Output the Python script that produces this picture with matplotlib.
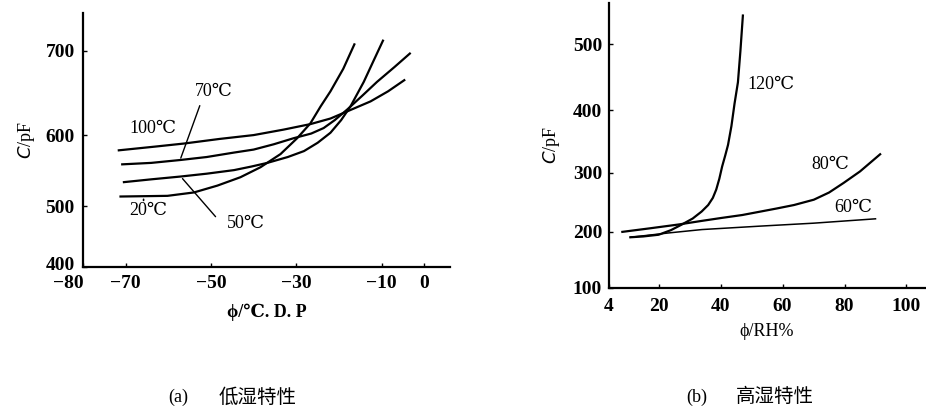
import numpy as np
import matplotlib
matplotlib.use('Agg')
import matplotlib.pyplot as plt
from matplotlib.transforms import ScaledTranslation

# (a) low humidity: dew point vs capacitance
dp_100 = [-71.6, -63, -56.3, -48, -40, -33, -26.7, -22, -18, -12.6, -8.5, -4.7]
c_100 = [580, 585, 589, 595, 600, 607, 614, 621, 630, 642, 654, 667]
dp_70 = [-70.8, -64, -57.1, -51, -44.6, -40, -35.3, -30.6, -26.5, -23.6, -21, -18.1, -14.5, -11.1, -7, -3.4]
c_70 = [561, 563, 567, 571, 577, 581, 588, 596, 602, 609, 619, 632, 649, 665, 682, 697]
dp_50 = [-70.4, -64, -57.1, -51, -44.6, -40.5, -36.8, -32, -28.2, -25, -22, -19.5, -17.3, -14.2, -12, -9.7]
c_50 = [536, 540, 544, 548, 553, 558, 563, 571, 579, 590, 603, 619, 636, 665, 688, 711]
dp_20 = [-71.2, -60.2, -54, -48.5, -43.1, -38.4, -33.7, -29.8, -26.7, -24.3, -22, -19, -16.4]
c_20 = [515, 516, 521, 531, 543, 557, 575, 596, 615, 636, 654, 680, 707]

# (b) high humidity: RH vs capacitance
rh_120 = [10.9, 15, 20, 24, 27.5, 31, 33.9, 36, 37.5, 38.6, 39.6, 40.5, 41.5, 42.4, 43.5, 44.5, 45.6, 46.4, 47.2]
c_120 = [190.6, 192, 195, 203, 212.7, 223, 235, 246, 258, 272, 290, 310, 328, 345, 375, 410, 443, 490, 542]
rh_80 = [8.3, 17, 26.4, 34, 40.3, 47, 53, 58, 63.7, 70.1, 75, 79.7, 85, 91.5]
c_80 = [200, 206, 212.7, 219, 224, 229, 235, 240, 246, 255, 267, 283, 302, 330]
rh_60 = [10.9, 23, 34, 53, 70, 90]
c_60 = [190.6, 198, 204, 210, 215, 222.5]

left_xticks = [-80, -70, -50, -30, -10, 0]
left_yticks = [400, 500, 600, 700]
right_xticks = [4, 20, 40, 60, 80, 100]
right_yticks = [100, 200, 300, 400, 500]

serif = ['Liberation Serif', 'DejaVu Serif', 'Noto Sans CJK SC']
cjk = ['Noto Sans CJK SC', 'DejaVu Sans']
plt.rcParams['font.family'] = serif
plt.rcParams['axes.unicode_minus'] = True

fig = plt.figure(figsize=(9.26, 4.13), dpi=100)
ax1 = fig.add_axes([0.0896, 0.3535, 0.3963, 0.615])
ax2 = fig.add_axes([0.6577, 0.3027, 0.3413, 0.690])


def style(ax):
    for s in ['top', 'right']:
        ax.spines[s].set_visible(False)
    for s in ['left', 'bottom']:
        ax.spines[s].set_linewidth(1.6)
    ax.tick_params(direction='in', length=3, width=1, labelsize=14)
    for lab in ax.get_xticklabels() + ax.get_yticklabels():
        lab.set_fontweight('bold')


# the scanned axes are not quite linear: stretched toward the top
b1 = 1.18
ax1.set_yscale('function', functions=(lambda v: b1 ** (np.asarray(v) / 100.0),
                                      lambda u: 100.0 * np.log(np.asarray(u)) / np.log(b1)))
b2 = 1.055
ax2.set_yscale('function', functions=(lambda v: b2 ** (np.asarray(v) / 100.0),
                                      lambda u: 100.0 * np.log(np.asarray(u)) / np.log(b2)))

lw = 1.6
ax1.plot(dp_100, c_100, color='black', lw=lw)
ax1.plot(dp_70, c_70, color='black', lw=lw)
ax1.plot(dp_50, c_50, color='black', lw=lw)
ax1.plot(dp_20, c_20, color='black', lw=lw)
ax1.set_xlim(-80, 6)
ax1.set_ylim(400, 740)
ax1.set_xticks(left_xticks)
ax1.set_yticks(left_yticks)
ax1.tick_params(axis='x', pad=6)
ax1.tick_params(axis='y', pad=6)
style(ax1)
# the "-80" and "400" labels sit off the corner in the reference
ax1.get_xticklabels()[0].set_transform(ax1.get_xticklabels()[0].get_transform()
                                       + ScaledTranslation(-0.15, 0, fig.dpi_scale_trans))
ax1.get_yticklabels()[0].set_transform(ax1.get_yticklabels()[0].get_transform()
                                       + ScaledTranslation(0, 0.04, fig.dpi_scale_trans))

ax1.text(-63.7, 608, '100℃', fontsize=13, ha='center', va='center')
ax1.text(-49.4, 654, '70℃', fontsize=13, ha='center', va='center')
ax1.annotate('', xy=(-57.3, 566), xytext=(-52.4, 640),
             arrowprops=dict(arrowstyle='-', color='black', lw=1))
ax1.text(-64.8, 494, '20℃', fontsize=13, ha='center', va='center')
ax1.annotate('', xy=(-65.8, 515), xytext=(-65.8, 505),
             arrowprops=dict(arrowstyle='-', color='black', lw=1.2))
ax1.text(-41.9, 474, '50℃', fontsize=13, ha='center', va='center')
ax1.annotate('', xy=(-57.1, 544), xytext=(-48.5, 481),
             arrowprops=dict(arrowstyle='-', color='black', lw=1))

ax1.set_ylabel('$C$/pF', fontsize=13, labelpad=6)
ax1.set_xlabel('ϕ/℃. D. P', fontsize=13, fontweight='bold', labelpad=8)

ax2.plot(rh_120, c_120, color='black', lw=lw)
ax2.plot(rh_80, c_80, color='black', lw=lw)
ax2.plot(rh_60, c_60, color='black', lw=1.1)
ax2.set_xlim(4, 106)
ax2.set_ylim(100, 560)
ax2.set_xticks(right_xticks)
ax2.set_yticks(right_yticks)
ax2.tick_params(axis='x', pad=7)
ax2.tick_params(axis='y', pad=5)
style(ax2)

ax2.text(56.3, 440, '120℃', fontsize=13, ha='center', va='center')
ax2.text(75.5, 313, '80℃', fontsize=13, ha='center', va='center')
ax2.text(82.8, 242, '60℃', fontsize=13, ha='center', va='center')

ax2.set_ylabel('$C$/pF', fontsize=13, labelpad=8)
ax2.set_xlabel('ϕ/RH%', fontsize=13, labelpad=6)

fig.text(0.193, 0.039, '(a)', fontsize=13, ha='center', va='center')
fig.text(0.278, 0.039, '低湿特性', fontsize=14, ha='center', va='center', family=cjk)
fig.text(0.752, 0.039, '(b)', fontsize=13, ha='center', va='center')
fig.text(0.837, 0.039, '高湿特性', fontsize=14, ha='center', va='center', family=cjk)

fig.savefig('out.png', dpi=100)
